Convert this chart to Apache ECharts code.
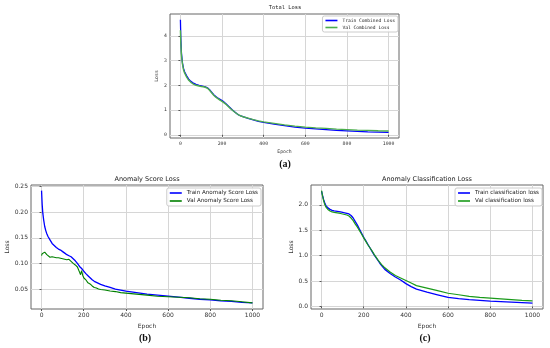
<!DOCTYPE html>
<html><head><meta charset="utf-8">
<script src="https://cdn.jsdelivr.net/npm/echarts@6/dist/echarts.min.js"></script>
<style>html,body{margin:0;padding:0;background:#fff}#c{width:550px;height:348px}</style>
</head><body><div id="c"></div>
<script>
// ---- Data ----
const epochsA = [0,2,5,10,15,20,30,40,50,60,75,90,100,110,120,130,140,150,160,170,180,190,200,210,220,230,240,250,260,270,280,290,300,325,350,375,400,450,500,550,600,650,700,750,800,850,900,950,1000];
const trainTotal = [4.65,3.9,3.3,2.9,2.68,2.55,2.38,2.25,2.16,2.1,2.04,2.0,1.98,1.96,1.94,1.9,1.82,1.72,1.62,1.55,1.48,1.43,1.38,1.32,1.24,1.16,1.08,1.0,0.93,0.86,0.8,0.76,0.73,0.66,0.6,0.54,0.5,0.43,0.37,0.31,0.27,0.24,0.21,0.18,0.16,0.14,0.12,0.11,0.1];
const valTotal = [4.22,3.7,3.2,2.85,2.62,2.5,2.33,2.2,2.12,2.06,2.0,1.97,1.95,1.94,1.92,1.88,1.8,1.7,1.6,1.52,1.46,1.4,1.35,1.29,1.22,1.14,1.06,0.99,0.92,0.86,0.8,0.76,0.73,0.67,0.61,0.56,0.52,0.46,0.4,0.35,0.31,0.28,0.26,0.23,0.21,0.19,0.18,0.16,0.15];

const epochsB = [0,3,6,10,15,20,25,30,40,50,60,70,80,90,100,110,120,130,140,150,160,170,175,180,185,190,195,200,210,220,230,240,250,260,270,280,300,325,350,375,400,450,500,550,600,650,700,750,800,850,900,950,1000];
const trainScore = [0.242,0.215,0.198,0.185,0.172,0.164,0.158,0.153,0.146,0.139,0.135,0.131,0.128,0.126,0.123,0.12,0.117,0.115,0.113,0.109,0.105,0.1,0.097,0.094,0.091,0.09,0.087,0.085,0.08,0.076,0.072,0.068,0.065,0.063,0.061,0.059,0.056,0.053,0.05,0.048,0.046,0.043,0.04,0.038,0.036,0.034,0.032,0.03,0.029,0.027,0.026,0.024,0.023];
const valScore = [0.115,0.119,0.117,0.12,0.122,0.12,0.117,0.115,0.112,0.113,0.112,0.111,0.111,0.11,0.109,0.108,0.107,0.108,0.104,0.1,0.097,0.093,0.088,0.083,0.078,0.086,0.077,0.072,0.068,0.062,0.06,0.056,0.053,0.052,0.05,0.049,0.048,0.046,0.045,0.043,0.042,0.04,0.038,0.036,0.035,0.034,0.033,0.031,0.03,0.028,0.027,0.025,0.023];

const epochsC = [0,5,10,15,20,30,40,50,60,75,90,100,110,120,130,140,150,160,170,180,190,200,210,220,230,240,250,260,270,280,290,300,325,350,375,400,425,450,500,550,600,650,700,750,800,850,900,950,1000];
const trainClass = [2.27,2.18,2.1,2.04,1.99,1.94,1.91,1.89,1.88,1.87,1.86,1.85,1.84,1.83,1.82,1.79,1.74,1.67,1.6,1.52,1.44,1.36,1.29,1.22,1.15,1.08,1.01,0.95,0.89,0.83,0.78,0.73,0.65,0.58,0.52,0.45,0.39,0.34,0.28,0.23,0.18,0.155,0.135,0.12,0.105,0.095,0.085,0.075,0.065];
const valClass = [2.28,2.17,2.08,2.01,1.96,1.91,1.88,1.86,1.85,1.84,1.83,1.82,1.81,1.8,1.78,1.74,1.69,1.62,1.56,1.49,1.42,1.35,1.28,1.21,1.15,1.09,1.02,0.96,0.9,0.85,0.8,0.76,0.68,0.61,0.56,0.51,0.46,0.41,0.36,0.31,0.26,0.23,0.2,0.18,0.165,0.15,0.135,0.12,0.11];

const xTicks = [0,200,400,600,800,1000];
const yTicksA = [0,1,2,3,4];
const yTicksB = [0.05,0.10,0.15,0.20,0.25];
const yTicksC = [0,0.5,1.0,1.5,2.0];

const titles = ['Total Loss','Anomaly Score Loss','Anomaly Classification Loss'];
const captions = ['(a)','(b)','(c)'];
// ---- End data ----

const pairs = (xs, ys) => xs.map((x, i) => [x, ys[i]]);
const BLUE = '#0000ff', GREEN = '#008000';
const MONO = 'DejaVu Sans Mono', SANS = 'DejaVu Sans';

function xAxis(gi, fs, ff, nameGap) {
  return {
    type: 'value', gridIndex: gi, min: -50, max: 1050,
    name: 'Epoch', nameLocation: 'middle', nameGap: nameGap,
    nameTextStyle: {fontSize: fs, fontFamily: ff, color: '#333'},
    axisLine: {show: false},
    axisTick: {show: true, length: 2, customValues: xTicks, lineStyle: {color: '#555'}},
    axisLabel: {customValues: xTicks, fontSize: fs, fontFamily: ff, color: '#333', margin: 3,
      formatter: v => String(Math.round(v))},
    splitLine: {show: true, lineStyle: {color: '#d6d6d6', width: 1}}
  };
}
function yAxis(gi, fs, ff, nameGap, min, max, ticks, dec) {
  return {
    type: 'value', gridIndex: gi, min: min, max: max,
    name: 'Loss', nameLocation: 'middle', nameGap: nameGap, nameRotate: 90,
    nameTextStyle: {fontSize: fs, fontFamily: ff, color: '#333'},
    axisLine: {show: false},
    axisTick: {show: true, length: 2, customValues: ticks, lineStyle: {color: '#555'}},
    axisLabel: {customValues: ticks, fontSize: fs, fontFamily: ff, color: '#333', margin: 3,
      formatter: v => dec === 0 ? String(Math.round(v)) : Number(v).toFixed(dec)},
    splitLine: {show: true, lineStyle: {color: '#d6d6d6', width: 1}}
  };
}
function legend(right, top, fs, ff, names) {
  return {
    orient: 'vertical', right: right, top: top, itemWidth: 12, itemHeight: 1.6, itemGap: 2,
    padding: [2, 3, 2, 3], borderColor: '#cccccc', borderWidth: 1, borderRadius: 2,
    backgroundColor: 'rgba(255,255,255,0.85)', icon: 'rect',
    textStyle: {fontSize: fs, fontFamily: ff, color: '#222'},
    data: names
  };
}
function line(name, xi, data, color, w) {
  return {
    name: name, type: 'line', xAxisIndex: xi, yAxisIndex: xi, data: data,
    showSymbol: false, symbol: 'none', lineStyle: {color: color, width: w}, itemStyle: {color: color},
    animation: false
  };
}
function txt(x, y, text, font, fill) {
  return {type: 'text', x: x, y: y, silent: true,
    style: {text: text, font: font, fill: fill || '#222', align: 'center', verticalAlign: 'middle'}};
}

const chart = echarts.init(document.getElementById('c'), null, {renderer: 'canvas'});
chart.setOption({
  animation: false,
  backgroundColor: '#fff',
  grid: [
    {left: 170, top: 14, width: 229, height: 124, show: true, borderColor: '#666', borderWidth: 1},
    {left: 31, top: 185, width: 232, height: 124, show: true, borderColor: '#666', borderWidth: 1},
    {left: 311, top: 185, width: 232, height: 124, show: true, borderColor: '#666', borderWidth: 1}
  ],
  xAxis: [xAxis(0, 4.8, MONO, 11), xAxis(1, 6, SANS, 14), xAxis(2, 6, SANS, 14)],
  yAxis: [
    yAxis(0, 4.8, MONO, 11, -0.13, 4.88, yTicksA, 0),
    yAxis(1, 6, SANS, 20, 0.011, 0.253, yTicksB, 2),
    yAxis(2, 6, SANS, 16, -0.05, 2.39, yTicksC, 1)
  ],
  legend: [
    legend(152, 16, 4.6, MONO, ['Train Combined Loss', 'Val Combined Loss']),
    legend(289, 188, 5.6, SANS, ['Train Anomaly Score Loss', 'Val Anomaly Score Loss']),
    legend(8, 188, 5.6, SANS, ['Train classification loss', 'Val classification loss'])
  ],
  series: [
    line('Train Combined Loss', 0, pairs(epochsA, trainTotal), BLUE, 1.3),
    line('Val Combined Loss', 0, pairs(epochsA, valTotal), '#4cae4c', 1.4),
    line('Train Anomaly Score Loss', 1, pairs(epochsB, trainScore), BLUE, 1.3),
    line('Val Anomaly Score Loss', 1, pairs(epochsB, valScore), GREEN, 1.1),
    line('Train classification loss', 2, pairs(epochsC, trainClass), BLUE, 1.3),
    line('Val classification loss', 2, pairs(epochsC, valClass), '#1a9a1a', 1.2)
  ],
  graphic: [
    txt(285, 8, titles[0], '5.4px "DejaVu Sans Mono"'),
    txt(147, 179, titles[1], '6.5px "DejaVu Sans"'),
    txt(427, 179, titles[2], '6.5px "DejaVu Sans"'),
    txt(285, 164, captions[0], 'bold 10px "Liberation Serif"', '#111'),
    txt(145, 338, captions[1], 'bold 10px "Liberation Serif"', '#111'),
    txt(425, 338, captions[2], 'bold 10px "Liberation Serif"', '#111')
  ]
});
</script></body></html>
